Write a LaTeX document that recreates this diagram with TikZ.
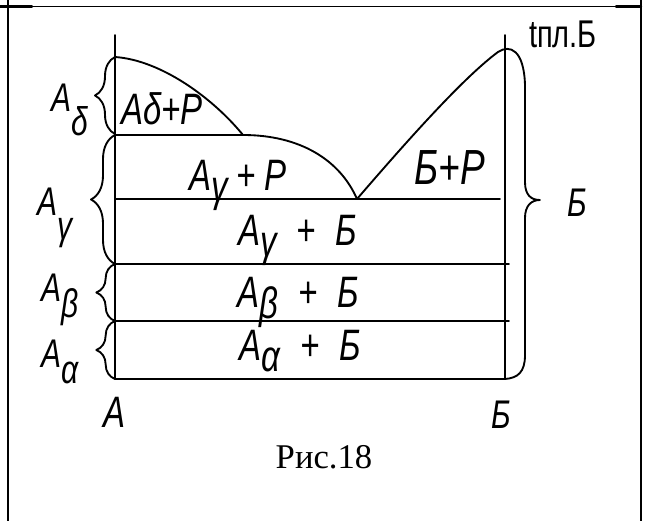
\documentclass[tikz,border=0pt]{standalone}
\usepackage{fontspec}
\setmainfont{Liberation Serif}
\newfontfamily\hand[FakeStretch=0.75]{Liberation Sans}
\usetikzlibrary{decorations.pathreplacing}
\newcommand{\lowsub}[2][0.25em]{\raisebox{-#1}{#2}}
\newcommand{\wsp}{\hspace{0.45em}}
\newcommand{\nsp}{\hspace{0.2em}}
\begin{document}
\begin{tikzpicture}[x=0.75pt,y=-0.75pt,line cap=round,line join=round,
  ink/.style={line width=1.4pt},
  lbrace/.style={ink,decorate,decoration={brace,amplitude=#1}},
  hw/.style={font=\hand\itshape\fontsize{33}{35}\selectfont,inner sep=0pt},
  hwl/.style={font=\hand\itshape\fontsize{30}{32}\selectfont,inner sep=0pt},
  frame/.style={line width=1.8pt}]
\useasboundingbox (0,0) rectangle (647,521);
% table frame
\draw[frame] (8,0) -- (8,521);
\draw[frame] (641,0) -- (641,521);
\draw[line width=0.9pt] (0,6.5) -- (641,6.5);
\draw[frame] (0,6.5) -- (32,6.5);
\draw[frame] (616,6.5) -- (641,6.5);
% axes
\coordinate (Atop) at (115,35);
\coordinate (Abot) at (115,379);
\coordinate (Btop) at (505,35);
\coordinate (Bbot) at (505,379);
\draw[ink] (Atop) -- (Abot) -- (Bbot) -- (Btop);
% horizontal lines
\coordinate (d1) at (115,135); \coordinate (p1) at (243,135);
\coordinate (e0) at (115,199); \coordinate (e1) at (500,199);
\coordinate (g0) at (115,264); \coordinate (g1) at (509,264);
\coordinate (b0) at (115,321); \coordinate (b1) at (509,321);
\draw[ink] (d1) -- (p1);
\draw[ink] (e0) -- (e1);
\draw[ink] (g0) -- (g1);
\draw[ink] (b0) -- (b1);
% liquidus curves
\coordinate (tA) at (115,57);
\coordinate (eut) at (357,199);
\draw[ink] (tA) .. controls (160,60) and (212,97) .. (p1);
\draw[ink] (p1) .. controls (300,135) and (340,160) .. (eut);
\draw[ink] (eut) .. controls (395,155) and (460,80) .. (498,52)
  .. controls (510,44) and (524,50) .. (525,85)
  -- (525,182) .. controls (525,195) and (531,200) .. (540,200)
  .. controls (531,200) and (525,206) .. (525,218)
  -- (525,355) .. controls (525,372) and (518,378) .. (Bbot);
% left braces
\draw[lbrace=15pt] (115,134) -- (tA);
\draw[lbrace=18pt] (g0) -- (d1);
\draw[lbrace=14pt] (b0) -- (g0);
\draw[lbrace=14pt] (Abot) -- (b0);
% region labels
\node[hw,anchor=base] (ldp) at (162,124) {Аδ+Р};
\node[hw,anchor=base] (lgp) at (238,190) {А\lowsub{γ}\nsp+\nsp Р};
\node[hw,anchor=base,font=\hand\itshape\fontsize{37}{39}\selectfont] (lbp) at (450,184) {Б+Р};
\node[hw,anchor=base] (lgb) at (298,245) {А\lowsub{γ}\wsp+\wsp Б};
\node[hw,anchor=base] (lbb) at (298,307) {А\lowsub{β}\wsp+\wsp Б};
\node[hw,anchor=base] (lab) at (300,360) {А\lowsub{α}\wsp+\wsp Б};
% side labels
\node[hwl] (sd) at (70,110) {А\lowsub[0.6em]{δ}};
\node[hwl] (sg) at (55,218) {А\lowsub[0.6em]{γ}};
\node[hwl] (sb) at (60,300) {А\lowsub[0.4em]{β}};
\node[hwl] (sa) at (60,362) {А\lowsub[0.4em]{α}};
\node[hwl] (sB) at (577,203) {Б};
\node[hwl,font=\hand\itshape\fontsize{33}{35}\selectfont] (bA) at (115,412) {А};
\node[hwl] (bB) at (501,415) {Б};
\node[font=\hand\fontsize{29}{31}\selectfont,inner sep=0pt] (tm) at (563,34) {tпл.Б};
% caption
\node[font=\fontsize{26}{28}\selectfont,anchor=base,inner sep=0pt] (cap) at (324,468) {Рис.18};
\end{tikzpicture}
\end{document}
